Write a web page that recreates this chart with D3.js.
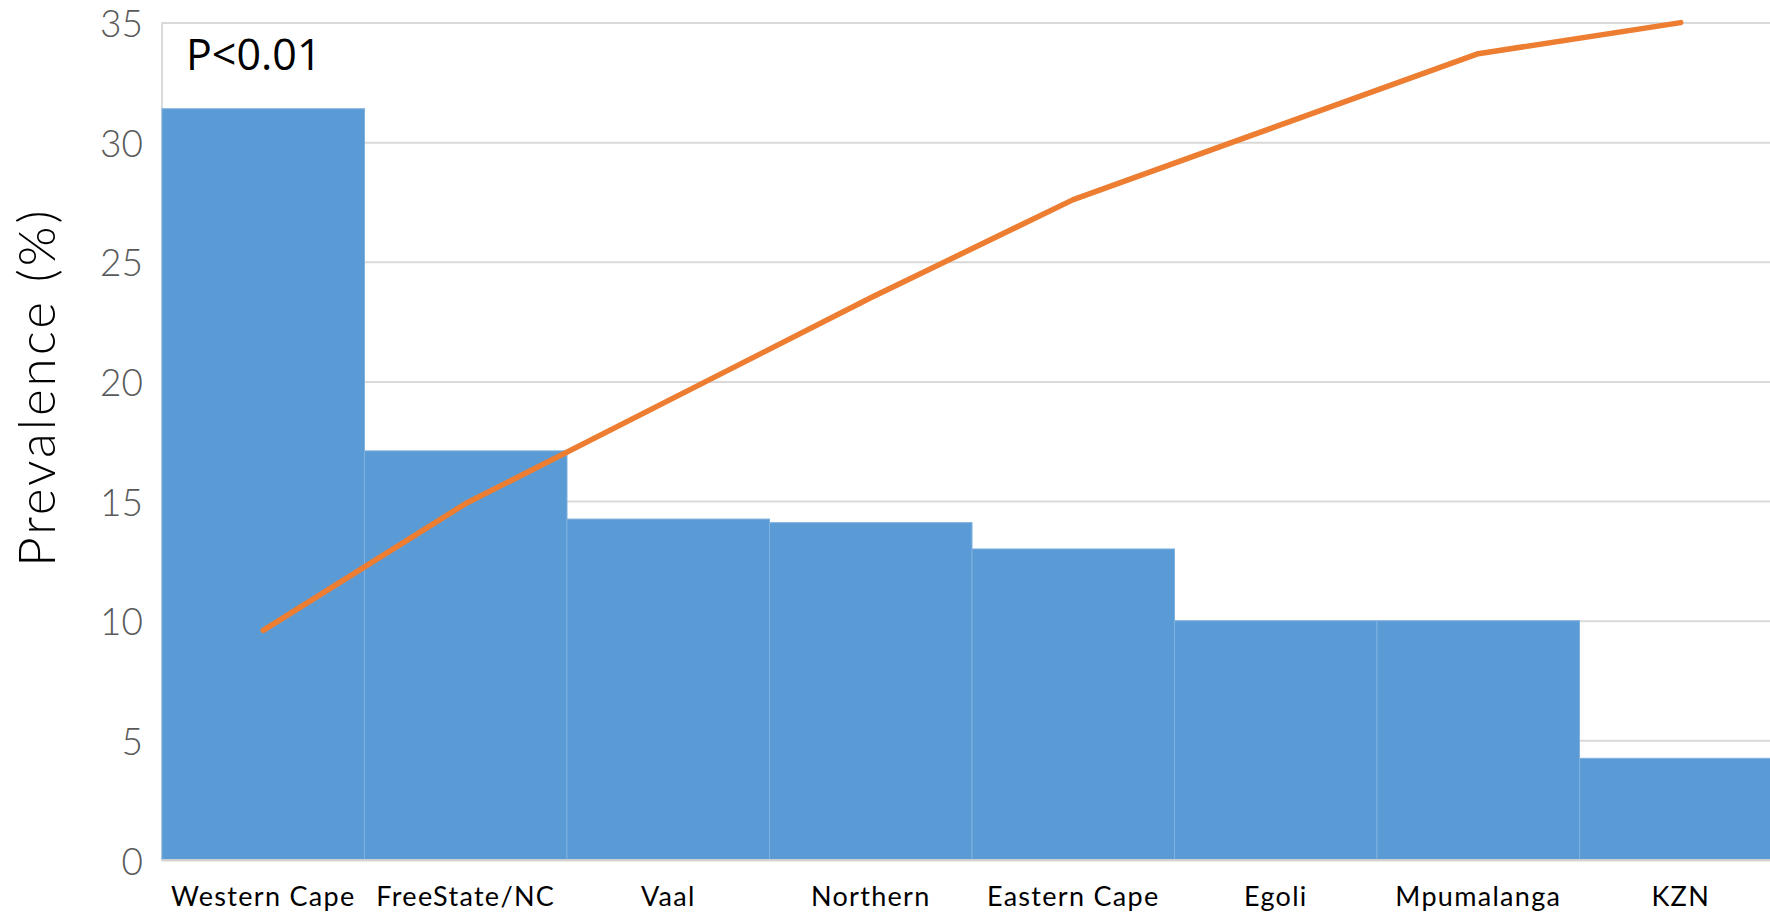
<!DOCTYPE html>
<html>
<head>
<meta charset="utf-8">
<script src="https://cdn.jsdelivr.net/npm/d3@7"></script>
<style>
  html, body { margin: 0; padding: 0; background: #fff; overflow: hidden; }
  svg { display: block; }
</style>
</head>
<body>
<script>
const categories = ["Western Cape", "FreeState/NC", "Vaal", "Northern", "Eastern Cape", "Egoli", "Mpumalanga", "KZN"];
const barValues = [31.4, 17.1, 14.25, 14.1, 13.0, 10.0, 10.0, 4.25];
const lineValues = [9.6, 14.9, 19.2, 23.5, 27.6, 30.65, 33.7, 35.0];
const yTicks = [0, 5, 10, 15, 20, 25, 30, 35];
const yLabel = "Prevalence (%)";
const annotation = "P<0.01";

const W = 1770, H = 916;
const plotLeft = 162, plotRight = 1782, plotTop = 22.6, plotBottom = 860;

const svg = d3.select("body").append("svg").attr("width", W).attr("height", H);

const x = d3.scaleBand().domain(categories).range([plotLeft, plotRight]).padding(0);
const y = d3.scaleLinear().domain([0, 35]).range([plotBottom, plotTop]);

// gridlines
const grid = d3.axisLeft(y).tickValues(yTicks).tickSize(-(plotRight - plotLeft)).tickFormat("");
svg.append("g").attr("transform", `translate(${plotLeft},0)`).call(grid)
  .call(g => g.select(".domain").remove())
  .call(g => g.selectAll("line").attr("stroke", "#d9d9d9").attr("stroke-width", 2));

// left border
svg.append("line").attr("x1", plotLeft).attr("x2", plotLeft).attr("y1", y(35)).attr("y2", y(0))
  .attr("stroke", "#d9d9d9").attr("stroke-width", 2);

// bars
svg.append("g").selectAll("rect").data(categories).join("rect")
  .attr("x", d => x(d))
  .attr("y", (d, i) => y(barValues[i]))
  .attr("width", x.bandwidth())
  .attr("height", (d, i) => y(0) - y(barValues[i]))
  .attr("fill", "#5b9bd5")
  .attr("stroke", "#7fb0de")
  .attr("stroke-width", 1);

// baseline
svg.append("line").attr("x1", plotLeft).attr("x2", plotRight).attr("y1", y(0)).attr("y2", y(0))
  .attr("stroke", "#d0d0d0").attr("stroke-width", 2);

// y axis labels
const yAxis = d3.axisLeft(y).tickValues(yTicks).tickSize(0).tickPadding(19);
svg.append("g").attr("transform", `translate(${plotLeft},0)`).call(yAxis)
  .call(g => g.select(".domain").remove())
  .call(g => g.selectAll("text").attr("font-family", "Lato, 'DejaVu Sans', sans-serif")
    .attr("dy", "0.38em")
    .attr("font-size", 37).attr("font-weight", 300).attr("fill", "#595959"));

// x axis labels
const xAxis = d3.axisBottom(x).tickSize(0).tickPadding(0);
svg.append("g").attr("transform", `translate(0,${plotBottom})`).call(xAxis)
  .call(g => g.select(".domain").remove())
  .call(g => g.selectAll("text").attr("dy", null).attr("y", 46)
    .attr("font-family", "Lato, 'DejaVu Sans', sans-serif")
    .attr("font-size", 27).attr("letter-spacing", 1.3).attr("fill", "#000"));

// line
const line = d3.line().x((d, i) => x(categories[i]) + x.bandwidth() / 2).y(d => y(d));
svg.append("path").datum(lineValues).attr("d", line)
  .attr("fill", "none").attr("stroke", "#ed7d31").attr("stroke-width", 5.5)
  .attr("stroke-linecap", "round").attr("stroke-linejoin", "round");

// y label
svg.append("text").attr("transform", `translate(55,387) rotate(-90)`)
  .attr("text-anchor", "middle")
  .attr("font-family", "Lato, 'DejaVu Sans', sans-serif").attr("font-size", 51).attr("font-weight", 300)
  .attr("letter-spacing", 3).attr("fill", "#000").text(yLabel);

// annotation
svg.append("text").attr("x", 186).attr("y", 70)
  .attr("font-family", "'Open Sans', sans-serif").attr("font-size", 43)
  .attr("fill", "#000").text(annotation);
</script>
</body>
</html>
